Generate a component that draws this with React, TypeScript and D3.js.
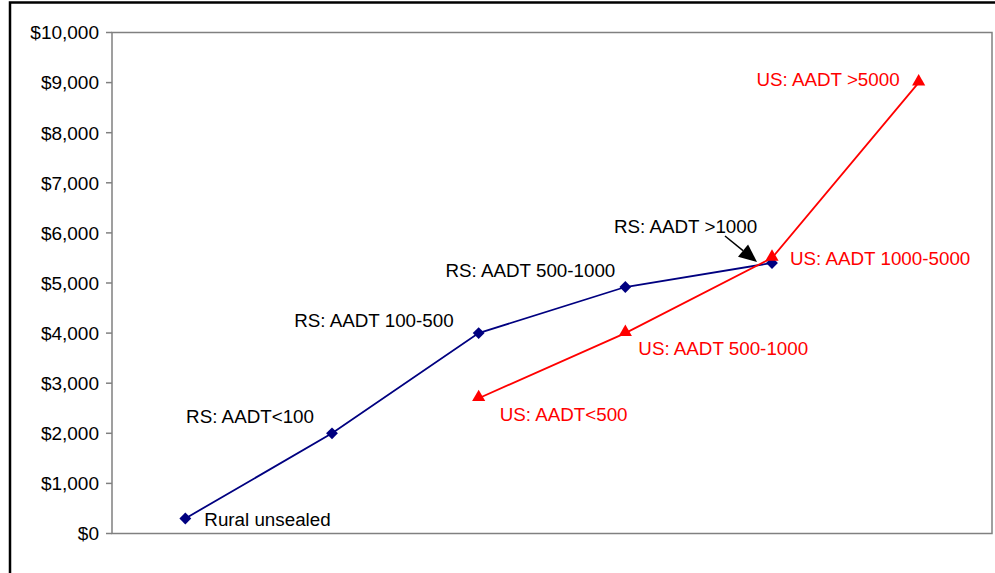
import React from "react";
import * as d3 from "d3";

const categories = ["c0", "c1", "c2", "c3", "c4", "c5"];
const rsValues: (number | null)[] = [300, 2000, 4000, 4920, 5400, null];
const usValues: (number | null)[] = [null, null, 2700, 4000, 5500, 9000];
const rsLabels = ["Rural unsealed", "RS: AADT<100", "RS: AADT 100-500", "RS: AADT 500-1000", "RS: AADT >1000"];
const usLabels = ["", "", "US: AADT<500", "US: AADT 500-1000", "US: AADT 1000-5000", "US: AADT >5000"];
const yTicks = [0, 1000, 2000, 3000, 4000, 5000, 6000, 7000, 8000, 9000, 10000];

// label placement (offsets from the data point)
const rsLabelPos = [
  { dx: 19, dy: 8, anchor: "start" },
  { dx: -18, dy: -10, anchor: "end" },
  { dx: -25, dy: -6, anchor: "end" },
  { dx: -10, dy: -10, anchor: "end" },
  { dx: -158, dy: -30, anchor: "start" },
];
const usLabelPos = [
  null,
  null,
  { dx: 21, dy: 23, anchor: "start" },
  { dx: 13, dy: 22, anchor: "start" },
  { dx: 18, dy: 7, anchor: "start" },
  { dx: -19, dy: 3, anchor: "end" },
];

const W = 995;
const H = 573;
const M = { left: 112, top: 32.5, right: 992, bottom: 533.5 };
const FONT = "'Liberation Sans', Arial, sans-serif";

export default function App() {
  const x = d3.scaleBand<string>().domain(categories).range([M.left, M.right]);
  const y = d3.scaleLinear().domain([0, 10000]).range([M.bottom, M.top]);
  const cx = (i: number) => (x(categories[i]) as number) + x.bandwidth() / 2;

  const line = d3
    .line<number | null>()
    .defined((d) => d !== null)
    .x((_, i) => cx(i))
    .y((d) => y(d as number));

  const diamond = d3.symbol().type(d3.symbolSquare).size(70)() as string;
  const tri = d3.symbol().type(d3.symbolTriangle).size(75)() as string;
  const fmt = (v: number) => "$" + d3.format(",")(v);

  // arrow pointing at RS >1000 point
  const ax = cx(4);
  const ay = y(rsValues[4] as number);
  const tip = [ax - 15, ay - 1];
  const tail = [ax - 47, ay - 27];
  const ang = Math.atan2(tip[1] - tail[1], tip[0] - tail[0]);
  const hl = 18;
  const hw = 8;
  const bx = tip[0] - hl * Math.cos(ang);
  const by = tip[1] - hl * Math.sin(ang);
  const head = [
    tip,
    [bx + hw * Math.sin(ang), by - hw * Math.cos(ang)],
    [bx - hw * Math.sin(ang), by + hw * Math.cos(ang)],
  ];

  return (
    <svg
      width={W}
      height={H}
      style={{ position: "absolute", left: 0, top: 0, background: "#fff" }}
      fontFamily={FONT}
    >
      <rect x={10} y={2.5} width={W + 20} height={H + 20} fill="#fff" stroke="#000" strokeWidth={2.5} />
      <rect
        x={M.left}
        y={M.top}
        width={M.right - M.left}
        height={M.bottom - M.top}
        fill="#fff"
        stroke="#808080"
        strokeWidth={1.5}
      />
      {yTicks.map((t) => (
        <g key={t}>
          <line x1={M.left - 6} x2={M.left} y1={y(t)} y2={y(t)} stroke="#808080" strokeWidth={1.5} />
          <text x={M.left - 13} y={y(t)} dy="0.36em" textAnchor="end" fontSize={19} fill="#000">
            {fmt(t)}
          </text>
        </g>
      ))}
      <path d={line(rsValues) as string} fill="none" stroke="#000080" strokeWidth={1.8} />
      <path d={line(usValues) as string} fill="none" stroke="#ff0000" strokeWidth={1.8} />
      {rsValues.map((v, i) =>
        v === null ? null : (
          <path key={"rs" + i} d={diamond} transform={`translate(${cx(i)},${y(v)}) rotate(45)`} fill="#000080" />
        )
      )}
      {usValues.map((v, i) =>
        v === null ? null : (
          <path key={"us" + i} d={tri} transform={`translate(${cx(i)},${y(v) - 1})`} fill="#ff0000" />
        )
      )}
      {rsValues.map((v, i) => {
        const p = rsLabelPos[i];
        if (v === null || !p) return null;
        return (
          <text
            key={"rl" + i}
            x={cx(i) + p.dx}
            y={y(v) + p.dy}
            textAnchor={p.anchor as any}
            fontSize={18.8}
            fill="#000"
          >
            {rsLabels[i]}
          </text>
        );
      })}
      {usValues.map((v, i) => {
        const p = usLabelPos[i];
        if (v === null || !p) return null;
        return (
          <text
            key={"ul" + i}
            x={cx(i) + p.dx}
            y={y(v) + p.dy}
            textAnchor={p.anchor as any}
            fontSize={18.8}
            fill="#ff0000"
          >
            {usLabels[i]}
          </text>
        );
      })}
      <line x1={tail[0]} y1={tail[1]} x2={bx} y2={by} stroke="#000" strokeWidth={1.5} />
      <polygon points={head.map((p) => p.join(",")).join(" ")} fill="#000" />
    </svg>
  );
}
